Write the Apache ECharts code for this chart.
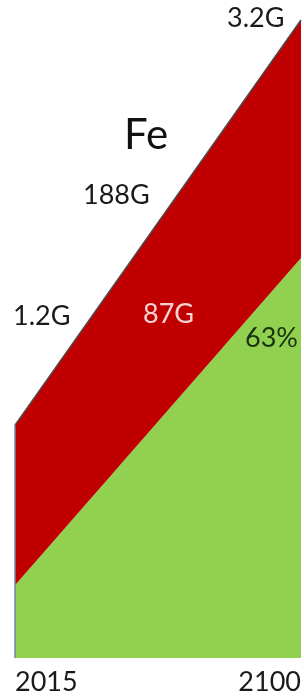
<!DOCTYPE html>
<html>
<head>
<meta charset="utf-8">
<script src="https://cdn.jsdelivr.net/npm/echarts@6/dist/echarts.min.js"></script>
<style>
  html, body { margin: 0; padding: 0; background: #fff; }
  #chart { width: 304px; height: 698px; }
</style>
</head>
<body>
<div id="chart"></div>
<script>
// years on the x axis (only the two ends are drawn)
const years = ['2015', '2100']
// green band (bottom), share of the scale
const greenVals = [11.4, 62.7]
// red band stacked on top of green
const redVals = [25.1, 37.3]

const fontName = 'Lato, "Open Sans", sans-serif'

const myChart = echarts.init(document.getElementById('chart'))

let option = {
  animation: false,
  grid: { left: 15, right: 3, top: 20, bottom: 40 },
  xAxis: {
    type: 'category',
    data: years,
    boundaryGap: false,
    axisLine: { show: false },
    axisTick: { show: false },
    splitLine: { show: false },
    axisLabel: {
      color: '#1a1a1a',
      fontSize: 27,
      fontFamily: fontName,
      margin: 11,
      alignMinLabel: 'left',
      alignMaxLabel: 'right'
    }
  },
  yAxis: {
    type: 'value',
    min: 0,
    max: 100,
    show: false
  },
  series: [
    {
      type: 'line',
      stack: 'fe',
      data: greenVals,
      symbol: 'none',
      lineStyle: { width: 0 },
      areaStyle: { color: '#92d050', opacity: 1 }
    },
    {
      type: 'line',
      stack: 'fe',
      data: redVals,
      symbol: 'none',
      lineStyle: { color: '#4a4a4a', width: 1.5 },
      areaStyle: { color: '#c00000', opacity: 1 },
      markLine: {
        silent: true,
        symbol: 'none',
        label: { show: false },
        lineStyle: { color: '#6a88a8', width: 1.5, type: 'solid' },
        data: [[{ coord: [0, 0] }, { coord: [0, greenVals[0] + redVals[0]] }]]
      }
    }
  ],
  graphic: [
    { type: 'text', z: 100, left: 227, top: 5, style: { text: '3.2G', font: '27px ' + fontName, fill: '#1a1a1a' } },
    { type: 'text', z: 100, left: 124, top: 114, style: { text: 'Fe', font: '42px ' + fontName, fill: '#111' } },
    { type: 'text', z: 100, left: 83, top: 182, style: { text: '188G', font: '27px ' + fontName, fill: '#1a1a1a' } },
    { type: 'text', z: 100, left: 13, top: 303, style: { text: '1.2G', font: '27px ' + fontName, fill: '#1a1a1a' } },
    { type: 'text', z: 100, left: 143, top: 301, style: { text: '87G', font: '27px ' + fontName, fill: '#f6d2d2' } },
    { type: 'text', z: 100, left: 245, top: 325, style: { text: '63%', font: '27px ' + fontName, fill: '#17330c' } }
  ]
}

myChart.setOption(option)
</script>
</body>
</html>
